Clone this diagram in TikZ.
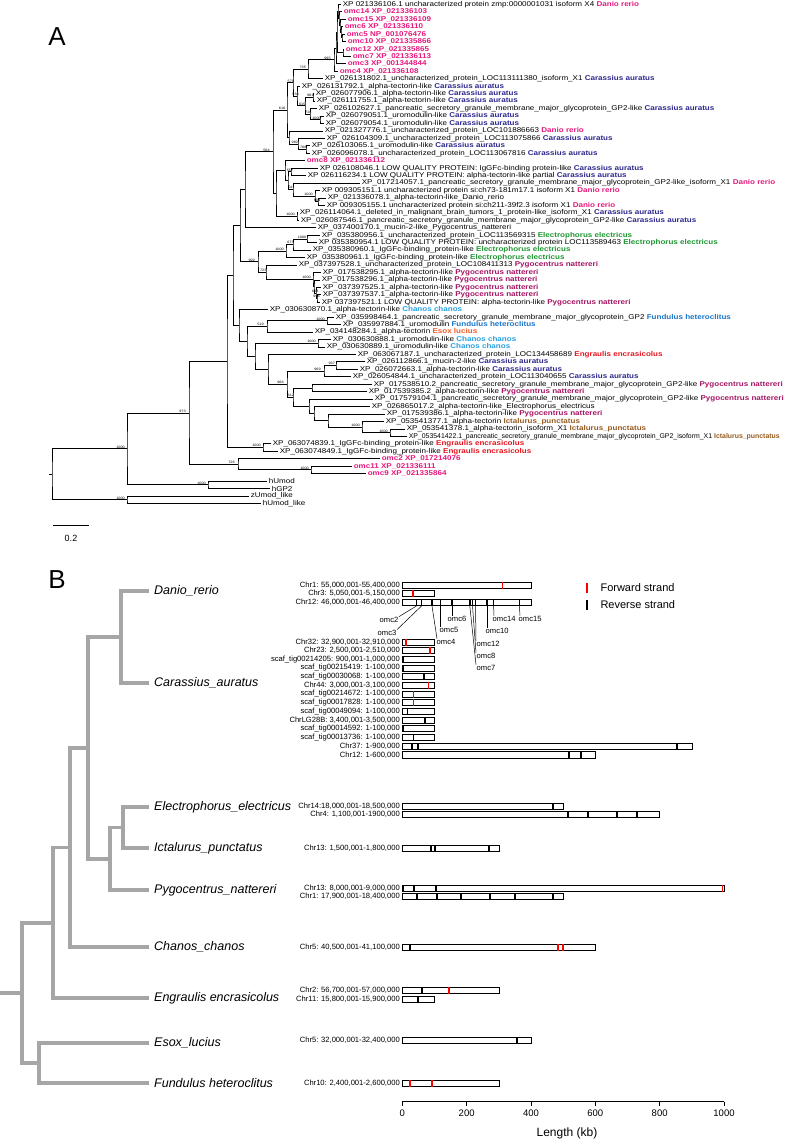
\documentclass[tikz,border=0pt]{standalone}
\usepackage{fontspec}
\setmainfont{Liberation Sans}
\newfontfamily\leaffont[FakeStretch=1.15]{Liberation Sans}
\newfontfamily\plainleaf{Liberation Sans}
\usetikzlibrary{calc}

\definecolor{cdr}{RGB}{230,25,125}
\definecolor{cca}{RGB}{45,40,140}
\definecolor{cee}{RGB}{30,150,50}
\definecolor{cpn}{RGB}{165,20,100}
\definecolor{ccc}{RGB}{40,160,225}
\definecolor{cfh}{RGB}{25,115,200}
\definecolor{cel}{RGB}{240,90,40}
\definecolor{cen}{RGB}{230,20,30}
\definecolor{cip}{RGB}{150,90,30}
\definecolor{treegray}{RGB}{166,166,166}

\tikzset{
  br/.style={line width=0.9pt},
  lf/.style={anchor=west, inner sep=0.6pt, font=\leaffont\fontsize{7}{8}\selectfont},
  bsl/.style={anchor=south, inner sep=0.4pt, font=\leaffont\fontsize{3.3}{3.5}\selectfont},
  gbr/.style={line width=3.8pt, draw=treegray},
  sp/.style={anchor=west, inner sep=0pt, font=\fontsize{12.5}{14}\selectfont\itshape},
  chrlab/.style={anchor=east, inner sep=1pt, font=\fontsize{7.6}{8}\selectfont},
  bar/.style={draw=black, line width=0.8pt, fill=white, inner sep=0pt, minimum height=6.2pt, anchor=west},
  fw/.style={draw=red, line width=1.7pt},
  rv/.style={draw=black, line width=1.7pt},
  omcl/.style={inner sep=0.5pt, font=\fontsize{7.6}{8}\selectfont},
  lead/.style={line width=0.5pt},
}

% species names of panel A
\newcommand\spDr{{\bfseries\color{cdr}Danio rerio}}
\newcommand\spCa{{\bfseries\color{cca}Carassius auratus}}
\newcommand\spEe{{\bfseries\color{cee}Electrophorus electricus}}
\newcommand\spPn{{\bfseries\color{cpn}Pygocentrus nattereri}}
\newcommand\spCc{{\bfseries\color{ccc}Chanos chanos}}
\newcommand\spFh{{\bfseries\color{cfh}Fundulus heteroclitus}}
\newcommand\spEl{{\bfseries\color{cel}Esox lucius}}
\newcommand\spEn{{\bfseries\color{cen}Engraulis encrasicolus}}
\newcommand\spIp{{\bfseries\color{cip}Ictalurus\_punctatus}}
\newcommand\omc[1]{{\bfseries\color{cdr}#1}}

% leaf: name, row, tip x, text
\newcommand\tleaf[4]{%
  \coordinate (#1) at (#3,{4.3+(#2-1)*7.45});
  \node[lf] (#1-t) at ([xshift=1pt]#1) {#4};}
% clade: name, x, first child, last child
\newcommand\tclade[4]{%
  \path let \p1=(#3), \p2=(#4) in (#2pt,{0.5*(\y1+\y2)}) coordinate (#1);
  \draw[br] (#3) -| (#1) |- (#4);}
% bootstrap value on the branch parent -> child
\newcommand\bsv[3]{%
  \path let \p1=(#1), \p2=(#2) in
    node[bsl] (#2-bs) at ({max(\x1+0.65*(\x2-\x1),\x2-6.5)},\y2) {#3};}
% panel B
\newcommand\gleaf[3]{%
  \coordinate (#1) at (149,#2);
  \node[sp] (#1-t) at (154,#2) {#3};}
\newcommand\gclade[4]{%
  \path let \p1=(#3), \p2=(#4) in (#2pt,{0.5*(\y1+\y2)}) coordinate (#1);
  \draw[gbr] (#3) -| (#1) |- (#4);}
\newcommand\chrom[4]{%
  \node[bar, minimum width=#3pt] (#1) at (402,#2) {};
  \node[chrlab] (#1-l) at ([xshift=-1pt]#1.west) {#4};}
\newcommand\mk[3]{%
  \draw[#3] ([xshift=#2pt]#1.south west) -- ([xshift=#2pt]#1.north west);}

\begin{document}
\begin{tikzpicture}[x=1pt,y=-1pt]
\useasboundingbox (0,0) rectangle (789,1141);

% ---------------- A ----------------
\node[font=\fontsize{26}{28}\selectfont] (labA) at (57,37) {A};

\tleaf{l1}{1}{341}{XP 021336106.1 uncharacterized protein zmp:0000001031 isoform X4 \spDr}
\tleaf{l2}{2}{342}{\omc{omc14 XP\_021336103}}
\tleaf{l3}{3}{346}{\omc{omc15 XP\_021336109}}
\tleaf{l4}{4}{343}{\omc{omc6 XP\_021336110}}
\tleaf{l5}{5}{345}{\omc{omc5 NP\_001076476}}
\tleaf{l6}{6}{346}{\omc{omc10 XP\_021335866}}
\tleaf{l7}{7}{344}{\omc{omc12 XP\_021335865}}
\tleaf{l8}{8}{351}{\omc{omc7 XP\_021336113}}
\tleaf{l9}{9}{346}{\omc{omc3 XP\_001344844}}
\tleaf{l10}{10}{338}{\omc{omc4 XP\_021336108}}
\tleaf{l11}{11}{323}{XP\_026131802.1\_uncharacterized\_protein\_LOC113111380\_isoform\_X1 \spCa}
\tleaf{l12}{12}{300}{XP\_026131792.1\_alpha-tectorin-like \spCa}
\tleaf{l13}{13}{314}{XP\_026077906.1\_alpha-tectorin-like \spCa}
\tleaf{l14}{14}{315}{XP\_026111755.1\_alpha-tectorin-like \spCa}
\tleaf{l15}{15}{317}{XP\_026102627.1\_pancreatic\_secretory\_granule\_membrane\_major\_glycoprotein\_GP2-like \spCa}
\tleaf{l16}{16}{324}{XP\_026079051.1\_uromodulin-like \spCa}
\tleaf{l17}{17}{324}{XP\_026079054.1\_uromodulin-like \spCa}
\tleaf{l18}{18}{323}{XP\_021327776.1\_uncharacterized\_protein\_LOC101886663 \spDr}
\tleaf{l19}{19}{325}{XP\_026104309.1\_uncharacterized\_protein\_LOC113075866 \spCa}
\tleaf{l20}{20}{310}{XP\_026103065.1\_uromodulin-like \spCa}
\tleaf{l21}{21}{310}{XP\_026096078.1\_uncharacterized\_protein\_LOC113067816 \spCa}
\tleaf{l22}{22}{305}{\omc{omc8 XP\_021336112}}
\tleaf{l23}{23}{318}{XP 026108046.1 LOW QUALITY PROTEIN: IgGFc-binding protein-like \spCa}
\tleaf{l24}{24}{306}{XP 026116234.1 LOW QUALITY PROTEIN: alpha-tectorin-like partial \spCa}
\tleaf{l25}{25}{360}{XP\_017214057.1\_pancreatic\_secretory\_granule\_membrane\_major\_glycoprotein\_GP2-like\_isoform\_X1 \spDr}
\tleaf{l26}{26}{320}{XP 009305151.1 uncharacterized protein si:ch73-181m17.1 isoform X1 \spDr}
\tleaf{l27}{27}{326}{XP\_021336078.1\_alpha-tectorin-like\_Danio\_rerio}
\tleaf{l28}{28}{325}{XP 009305155.1 uncharacterized protein si:ch211-39f2.3 isoform X1 \spDr}
\tleaf{l29}{29}{298}{XP\_026114064.1\_deleted\_in\_malignant\_brain\_tumors\_1\_protein-like\_isoform\_X1 \spCa}
\tleaf{l30}{30}{299}{XP\_026087546.1\_pancreatic\_secretory\_granule\_membrane\_major\_glycoprotein\_GP2-like \spCa}
\tleaf{l31}{31}{316}{XP\_037400170.1\_mucin-2-like\_Pygocentrus\_nattereri}
\tleaf{l32}{32}{320}{XP\_035380956.1\_uncharacterized\_protein\_LOC113569315 \spEe}
\tleaf{l33}{33}{317}{XP 035380954.1 LOW QUALITY PROTEIN: uncharacterized protein LOC113589463 \spEe}
\tleaf{l34}{34}{311}{XP\_035380960.1\_IgGFc-binding\_protein-like \spEe}
\tleaf{l35}{35}{305}{XP\_035380961.1\_IgGFc-binding\_protein-like \spEe}
\tleaf{l36}{36}{297}{XP\_037397528.1\_uncharacterized\_protein\_LOC108411313 \spPn}
\tleaf{l37}{37}{321}{XP\_017538295.1\_alpha-tectorin-like \spPn}
\tleaf{l38}{38}{320}{XP\_017538296.1\_alpha-tectorin-like \spPn}
\tleaf{l39}{39}{321}{XP\_037397525.1\_alpha-tectorin-like \spPn}
\tleaf{l40}{40}{321}{XP\_037397537.1\_alpha-tectorin-like \spPn}
\tleaf{l41}{41}{320}{XP 037397521.1 LOW QUALITY PROTEIN: alpha-tectorin-like \spPn}
\tleaf{l42}{42}{268}{XP\_030630870.1\_alpha-tectorin-like \spCc}
\tleaf{l43}{43}{334}{XP\_035998464.1\_pancreatic\_secretory\_granule\_membrane\_major\_glycoprotein\_GP2 \spFh}
\tleaf{l44}{44}{341}{XP\_035997884.1\_uromodulin \spFh}
\tleaf{l45}{45}{313}{XP\_034148284.1\_alpha-tectorin \spEl}
\tleaf{l46}{46}{331}{XP\_030630888.1\_uromodulin-like \spCc}
\tleaf{l47}{47}{325}{XP\_030630889.1\_uromodulin-like \spCc}
\tleaf{l48}{48}{356}{XP\_063067187.1\_uncharacterized\_protein\_LOC134458689 \spEn}
\tleaf{l49}{49}{365}{XP\_026112866.1\_mucin-2-like \spCa}
\tleaf{l50}{50}{358}{XP\_026072663.1\_alpha-tectorin-like \spCa}
\tleaf{l51}{51}{351}{XP\_026054844.1\_uncharacterized\_protein\_LOC113040655 \spCa}
\tleaf{l52}{52}{372}{XP\_017538510.2\_pancreatic\_secretory\_granule\_membrane\_major\_glycoprotein\_GP2-like \spPn}
\tleaf{l53}{53}{367}{XP\_017539385.2\_alpha-tectorin-like \spPn}
\tleaf{l54}{54}{373}{XP\_017579104.1\_pancreatic\_secretory\_granule\_membrane\_major\_glycoprotein\_GP2-like \spPn}
\tleaf{l55}{55}{370}{XP\_026865017.2\_alpha-tectorin-like\_Electrophorus\_electricus}
\tleaf{l56}{56}{385}{XP\_017539386.1\_alpha-tectorin-like \spPn}
\tleaf{l57}{57}{384}{XP\_053541377.1\_alpha-tectorin \spIp}
\tleaf{l58}{58}{405}{XP\_053541378.1\_alpha-tectorin\_isoform\_X1 \spIp}
\tleaf{l59}{59}{407}{\plainleaf\fontsize{6.9}{8}\selectfont XP\_053541422.1\_pancreatic\_secretory\_granule\_membrane\_major\_glycoprotein\_GP2\_isoform\_X1 \spIp}
\tleaf{l60}{60}{271}{XP\_063074839.1\_IgGFc-binding\_protein-like \spEn}
\tleaf{l61}{61}{278}{XP\_063074849.1\_IgGFc-binding\_protein-like \spEn}
\tleaf{l62}{62}{380}{\omc{omc2 XP\_017214076}}
\tleaf{l63}{63}{352}{\omc{omc11 XP\_021336111}}
\tleaf{l64}{64}{366}{\omc{omc9 XP\_021335864}}
\tleaf{l65}{65}{267}{hUmod}
\tleaf{l66}{66}{270}{hGP2}
\tleaf{l67}{67}{249}{zUmod\_like}
\tleaf{l68}{68}{261}{hUmod\_like}

% omc cluster
\tclade{c8}{342}{l5}{l6}
\tclade{c6}{341}{l4}{c8}
\tclade{c5}{340}{l3}{c6}
\tclade{c4}{339}{l2}{c5}
\tclade{c3}{338}{l1}{c4}
\tclade{c7}{343}{l7}{l8}
\tclade{c2}{337}{c3}{c7}
\tclade{c1}{336}{c2}{l9}
\tclade{ccl}{334}{c1}{l10}
\tclade{n735}{308}{ccl}{l11}
% Carassius group
\tclade{n981}{313}{l13}{l14}
\tclade{n16}{320}{l16}{l17}
\tclade{n718}{310}{l15}{n16}
\tclade{n615}{305}{n981}{n718}
\tclade{n933}{297}{l12}{n615}
\tclade{n579}{293}{n735}{n933}
\tclade{n708}{306}{l20}{l21}
\tclade{ny}{298}{l19}{n708}
\tclade{nx}{289}{l18}{ny}
\tclade{n618}{287}{n579}{nx}
\tclade{n557}{291}{l23}{l24}
\tclade{n604}{318}{l27}{l28}
\tclade{n26}{315}{l26}{n604}
\tclade{n541}{293}{l25}{n26}
\tclade{nt}{288}{n557}{n541}
\tclade{ns}{285}{l22}{nt}
\tclade{n29}{297}{l29}{l30}
\tclade{nr}{276}{ns}{n29}
\tclade{n584}{273}{n618}{nr}
\tclade{nyy}{245}{n584}{l31}
% Electrophorus / Pygocentrus
\tclade{n3233}{307}{l32}{l33}
\tclade{n673}{293}{n3233}{l34}
\tclade{ne1}{286}{n673}{l35}
\tclade{npy4}{317}{l40}{l41}
\tclade{npy3}{316}{l39}{npy4}
\tclade{npy2}{314}{l38}{npy3}
\tclade{npy}{313}{l37}{npy2}
\tclade{n723}{266}{l36}{npy}
\tclade{n992}{258}{ne1}{n723}
\tclade{nxx}{240}{nyy}{n992}
% lower group
\tclade{nf}{327}{l43}{l44}
\tclade{n519}{267}{nf}{l45}
\tclade{nch}{318}{l46}{l47}
\tclade{n937}{336}{l49}{l50}
\tclade{n969}{324}{n937}{l51}
\tclade{na}{312}{l52}{l53}
\tclade{nff}{390}{l58}{l59}
\tclade{nee}{362}{l57}{nff}
\tclade{nd}{328}{l56}{nee}
\tclade{nc}{314}{l55}{nd}
\tclade{nb}{309}{l54}{nc}
\tclade{n612}{293}{na}{nb}
\tclade{n966}{287}{n969}{n612}
\tclade{n268}{268}{l48}{n966}
\tclade{n255}{255}{nch}{n268}
\tclade{nw}{247}{n519}{n255}
\tclade{n239}{239}{l42}{nw}
\tclade{e1}{233}{nxx}{n239}
\tclade{e2}{263}{l60}{l61}
\tclade{cc1}{227}{e1}{e2}
\tclade{d}{311}{l63}{l64}
\tclade{cc2}{238}{l62}{d}
\tclade{b1}{189}{cc1}{cc2}
\tclade{b2}{208}{l65}{l66}
\tclade{a1}{127}{b1}{b2}
\tclade{a2}{127}{l67}{l68}
\tclade{root}{52}{a1}{a2}
\draw[br] (root) -- ++(-3,0);

\bsv{n735}{ccl}{995}
\bsv{n579}{n735}{735}
\bsv{n618}{n579}{579}
\bsv{n584}{n618}{618}
\bsv{n579}{n933}{933}
\bsv{n933}{n615}{615}
\bsv{n615}{n981}{981}
\bsv{n615}{n718}{718}
\bsv{n718}{n16}{1000}
\bsv{nx}{ny}{982}
\bsv{ny}{n708}{708}
\bsv{nt}{n557}{557}
\bsv{nt}{n541}{541}
\bsv{n541}{n26}{1000}
\bsv{n26}{n604}{604}
\bsv{nr}{n29}{1000}
\bsv{nyy}{n584}{584}
\bsv{n673}{n3233}{1000}
\bsv{ne1}{n673}{673}
\bsv{n992}{ne1}{1000}
\bsv{nxx}{n992}{992}
\bsv{n992}{n723}{723}
\bsv{n723}{npy}{1000}
\bsv{npy2}{npy3}{663}
\bsv{npy3}{npy4}{993}
\bsv{n519}{nf}{1000}
\bsv{nw}{n519}{519}
\bsv{n255}{nch}{1000}
\bsv{n969}{n937}{937}
\bsv{n966}{n969}{969}
\bsv{n268}{n966}{966}
\bsv{n966}{n612}{612}
\bsv{nd}{nee}{1000}
\bsv{nee}{nff}{1000}
\bsv{cc1}{e2}{1000}
\bsv{b1}{cc2}{726}
\bsv{cc2}{d}{1000}
\bsv{a1}{b1}{973}
\bsv{a1}{b2}{1000}
\bsv{root}{a1}{1000}
\bsv{root}{a2}{1000}

% scale bar
\coordinate (sb1) at (53,525);
\coordinate (sb2) at (89,525);
\draw[line width=1pt] (sb1) -- (sb2);
\node[font=\fontsize{9}{10}\selectfont] (sbl) at (71,538) {0.2};

% ---------------- B ----------------
\node[font=\fontsize{26}{28}\selectfont] (labB) at (57,580) {B};

\gleaf{sDr}{591}{Danio\_rerio}
\gleaf{sCa}{683}{Carassius\_auratus}
\gleaf{sEe}{807}{Electrophorus\_electricus}
\gleaf{sIp}{848}{Ictalurus\_punctatus}
\gleaf{sPn}{890}{Pygocentrus\_nattereri}
\gleaf{sCc}{947}{Chanos\_chanos}
\gleaf{sEn}{998}{Engraulis encrasicolus}
\gleaf{sEl}{1043}{Esox\_lucius}
\gleaf{sFh}{1083}{Fundulus heteroclitus}
\gclade{g5}{121}{sDr}{sCa}
\gclade{g7}{123}{sEe}{sIp}
\gclade{g6}{110}{g7}{sPn}
\gclade{g4}{88}{g5}{g6}
\gclade{g3}{70}{g4}{sCc}
\gclade{g2}{53}{g3}{sEn}
\gclade{g8}{39}{sEl}{sFh}
\gclade{g1}{22}{g2}{g8}
\draw[gbr] (g1) -- ++(-23,0);

% legend
\coordinate (lg1) at (587,588);
\coordinate (lg2) at (587,605);
\draw[fw] ([yshift=-5pt]lg1) -- ([yshift=5pt]lg1);
\draw[rv] ([yshift=-5pt]lg2) -- ([yshift=5pt]lg2);
\node[anchor=west, font=\fontsize{11}{12}\selectfont] (lgt1) at (597,588) {Forward strand};
\node[anchor=west, font=\fontsize{11}{12}\selectfont] (lgt2) at (597,605) {Reverse strand};

% Danio rerio
\chrom{dA}{585}{128.7}{Chr1: 55,000,001-55,400,000}
\chrom{dB}{593.7}{32.2}{Chr3: 5,050,001-5,150,000}
\chrom{dC}{602.4}{128.7}{Chr12: 46,000,001-46,400,000}
\mk{dA}{100.5}{fw}
\mk{dB}{10.8}{fw}
\foreach \d in {14.6,19.6,30,38.5,50,67.8,70.5,73.5,85,91.6,117.4} {\mk{dC}{\d}{rv}}
\node[omcl, anchor=east] (o2) at (399,620) {omc2};
\node[omcl, anchor=east] (o3) at (397,633) {omc3};
\node[omcl, anchor=west] (o4) at (436,642) {omc4};
\node[omcl, anchor=west] (o5) at (439,630) {omc5};
\node[omcl, anchor=west] (o6) at (447,619) {omc6};
\node[omcl, anchor=west] (o12) at (476,644) {omc12};
\node[omcl, anchor=west] (o8) at (476,656) {omc8};
\node[omcl, anchor=west] (o7) at (476,668) {omc7};
\node[omcl, anchor=west] (o10) at (485,631) {omc10};
\node[omcl, anchor=west] (o14) at (492,619) {omc14};
\node[omcl, anchor=west] (o15) at (518,619) {omc15};
\draw[lead] ([xshift=14.6pt]dC.south west) -- (o2.north east);
\draw[lead] ([xshift=19.6pt]dC.south west) -- (o3.north east);
\draw[lead] ([xshift=30pt]dC.south west) -- ([xshift=1pt]o4.north west);
\draw[lead] ([xshift=38.5pt]dC.south west) -- ([xshift=1.5pt]o5.north west);
\draw[lead] ([xshift=50pt]dC.south west) -- ([xshift=5pt]o6.north west);
\draw[lead] ([xshift=67.8pt]dC.south west) -- (o7.north west);
\draw[lead] ([xshift=70.5pt]dC.south west) -- (o8.north west);
\draw[lead] ([xshift=73.5pt]dC.south west) -- (o12.north west);
\draw[lead] ([xshift=85pt]dC.south west) -- ([xshift=2pt]o10.north west);
\draw[lead] ([xshift=91.6pt]dC.south west) -- ([xshift=2pt]o14.north west);
\draw[lead] ([xshift=117.4pt]dC.south west) -- ([xshift=2pt]o15.north west);

% Carassius auratus
\chrom{cA}{642}{32.2}{Chr32: 32,900,001-32,910,000}
\chrom{cB}{650.7}{32.2}{Chr23: 2,500,001-2,510,000}
\chrom{cC}{659.3}{32.2}{scaf\_tig00214205: 900,001-1,000,000}
\chrom{cD}{668}{32.2}{scaf\_tig00215419: 1-100,000}
\chrom{cE}{676.7}{32.2}{scaf\_tig00030068: 1-100,000}
\chrom{cF}{685.4}{32.2}{Chr44: 3,000,001-3,100,000}
\chrom{cG}{694}{32.2}{scaf\_tig00214672: 1-100,000}
\chrom{cH}{702.7}{32.2}{scaf\_tig00017828: 1-100,000}
\chrom{cI}{711.4}{32.2}{scaf\_tig00049094: 1-100,000}
\chrom{cJ}{720}{32.2}{ChrLG28B: 3,400,001-3,500,000}
\chrom{cK}{728.7}{32.2}{scaf\_tig00014592: 1-100,000}
\chrom{cL}{737.4}{32.2}{scaf\_tig00013736: 1-100,000}
\chrom{cM}{746}{289.5}{Chr37: 1-900,000}
\chrom{cN}{754.8}{193}{Chr12: 1-600,000}
\mk{cA}{4}{fw}
\mk{cB}{28}{fw}
\mk{cC}{1.5}{rv}
\mk{cD}{1.5}{rv}
\mk{cE}{22}{rv}
\mk{cF}{26.5}{fw}
\mk{cG}{11.5}{fw}
\mk{cH}{11.5}{fw}
\mk{cI}{5.5}{rv}
\mk{cJ}{22.7}{rv}
\mk{cK}{1.5}{rv}
\mk{cL}{11.5}{rv}
\foreach \d in {10,16.3,274.7} {\mk{cM}{\d}{rv}}
\foreach \d in {166.7,178.7} {\mk{cN}{\d}{rv}}

% Electrophorus electricus
\chrom{eA}{806}{160.9}{Chr14:18,000,001-18,500,000}
\chrom{eB}{814.7}{257.4}{Chr4: 1,100,001-1900,000}
\mk{eA}{151.3}{rv}
\foreach \d in {166.3,186.3,214.7,234.7} {\mk{eB}{\d}{rv}}

% Ictalurus punctatus
\chrom{iA}{848}{96.5}{Chr13: 1,500,001-1,800,000}
\foreach \d in {28.7,33,87} {\mk{iA}{\d}{rv}}

% Pygocentrus nattereri
\chrom{pA}{888}{321.7}{Chr13: 8,000,001-9,000,000}
\chrom{pB}{896.7}{160.9}{Chr1: 17,900,001-18,400,000}
\foreach \d in {1,12.3,33.7} {\mk{pA}{\d}{rv}}
\mk{pA}{320.5}{fw}
\foreach \d in {15.3,34.7,59,88,113,151.3} {\mk{pB}{\d}{rv}}

% Chanos chanos
\chrom{hA}{947}{193}{Chr5: 40,500,001-41,100,000}
\mk{hA}{8}{rv}
\mk{hA}{155.7}{fw}
\mk{hA}{161.3}{fw}

% Engraulis encrasicolus
\chrom{gA}{990}{96.5}{Chr2: 56,700,001-57,000,000}
\chrom{gB}{999}{32.2}{Chr11: 15,800,001-15,900,000}
\mk{gA}{19.7}{rv}
\mk{gA}{47.3}{fw}
\mk{gB}{16.3}{rv}

% Esox lucius
\chrom{sA}{1040}{128.7}{Chr5: 32,000,001-32,400,000}
\mk{sA}{114.7}{rv}

% Fundulus heteroclitus
\chrom{fA}{1083}{96.5}{Chr10: 2,400,001-2,600,000}
\mk{fA}{8}{fw}
\mk{fA}{30.3}{fw}

% axis
\coordinate (ax0) at (402.3,1101.7);
\coordinate (ax1) at (724,1101.7);
\draw[line width=0.8pt] (ax0) -- (ax1);
\foreach \v [count=\i from 0] in {0,200,400,600,800,1000} {
  \draw[line width=0.8pt] ($(ax0)!\i/5!(ax1)$) -- ++(0,4);
  \node[font=\fontsize{9.5}{10}\selectfont] (tk\i) at ($(ax0)!\i/5!(ax1)+(0,12)$) {\v};
}
\node[font=\fontsize{12}{13}\selectfont] (axl) at (567,1133) {Length (kb)};
\end{tikzpicture}
\end{document}
